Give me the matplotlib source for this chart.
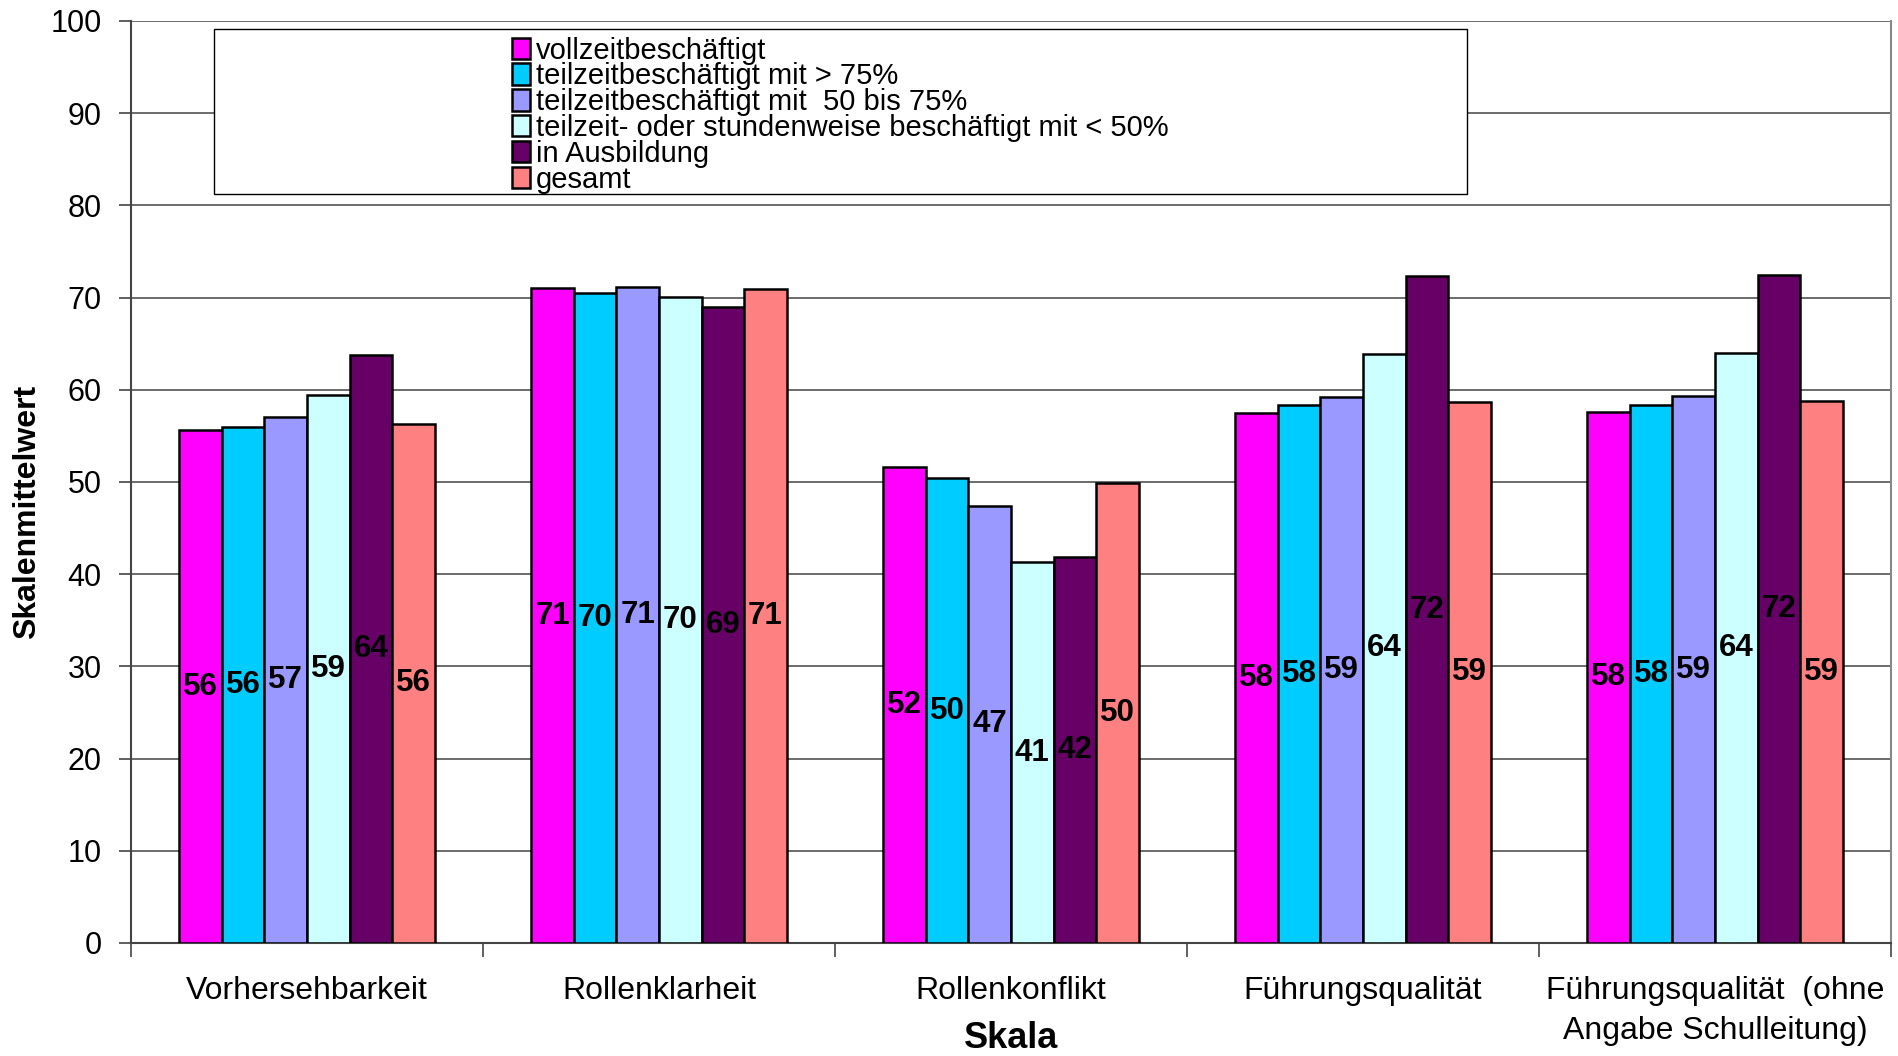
import numpy as np
import matplotlib
matplotlib.use("Agg")
import matplotlib.pyplot as plt
from matplotlib.patches import Rectangle, Patch

plt.rcParams['font.family'] = ['Liberation Sans', 'DejaVu Sans']

# Data
categories = ['Vorhersehbarkeit', 'Rollenklarheit', 'Rollenkonflikt',
              'Führungsqualität', 'Führungsqualität  (ohne\nAngabe Schulleitung)']
series_names = ['vollzeitbeschäftigt',
                'teilzeitbeschäftigt mit > 75%',
                'teilzeitbeschäftigt mit  50 bis 75%',
                'teilzeit- oder stundenweise beschäftigt mit < 50%',
                'in Ausbildung',
                'gesamt']
vollzeit = [55.6, 71.0, 51.6, 57.5, 57.6]
teil_75 = [56.0, 70.5, 50.4, 58.3, 58.4]
teil_50_75 = [57.1, 71.1, 47.4, 59.2, 59.3]
teil_50 = [59.4, 70.1, 41.3, 63.9, 64.0]
ausbildung = [63.8, 69.0, 41.9, 72.3, 72.4]
gesamt = [56.3, 70.9, 49.9, 58.7, 58.8]
series = [vollzeit, teil_75, teil_50_75, teil_50, ausbildung, gesamt]
colors = ['#FF00FF', '#00CCFF', '#9999FF', '#CCFFFF', '#660066', '#FF8080']

fig = plt.figure(figsize=(18.98, 10.56), dpi=100)
ax = fig.add_axes([131/1898, 1-943/1056, 1760/1898, 922/1056])

x = np.arange(len(categories))
n = len(series)
w = 0.1208
for i, (vals, col) in enumerate(zip(series, colors)):
    pos = x + (i - (n - 1) / 2) * w
    ax.bar(pos, vals, width=w, color=col, edgecolor='black', linewidth=1.8, zorder=3)
    for px, v in zip(pos, vals):
        ax.text(px, v / 2, str(int(round(v))), ha='center', va='center',
                fontsize=22.5, fontweight='bold', color='black', zorder=4)

ax.set_xlim(-0.5, len(categories) - 0.5)
ax.set_ylim(0, 100)
ax.set_yticks(np.arange(0, 101, 10))
ax.yaxis.grid(True, color='#444444', linewidth=1.1, zorder=0)
ax.tick_params(axis='y', labelsize=22, length=9, width=1.2, color='#444444', pad=12)

ax.set_xticks(x)
ax.set_xticklabels(categories, fontsize=23, linespacing=1.4)
ax.tick_params(axis='x', which='major', length=0, pad=24)
ax.set_xticks(np.arange(-0.5, len(categories)), minor=True)
ax.tick_params(axis='x', which='minor', length=10, width=1.2, color='#444444')

for s in ['left', 'bottom']:
    ax.spines[s].set_color('#444444')
    ax.spines[s].set_linewidth(1.5)
ax.spines['top'].set_visible(False)
ax.spines['right'].set_color('#888888')
ax.spines['right'].set_linewidth(1.5)

ax.set_xlabel('Skala', fontsize=26, fontweight='bold')
ax.xaxis.label.set_va('center')
ax.xaxis.set_label_coords(0.5, -0.104)
ax.set_ylabel('Skalenmittelwert', fontsize=23, fontweight='bold')
ax.yaxis.label.set_va('center')
ax.yaxis.set_label_coords(-0.059, 0.467)

# legend box
ax.add_patch(Rectangle((0.047, 0.812), 0.712, 0.179, transform=ax.transAxes,
                       facecolor='white', edgecolor='black', linewidth=1.0, zorder=5))
handles = [Patch(facecolor=c, edgecolor='black', linewidth=1.8) for c in colors]
leg = ax.legend(handles, series_names, loc='center', bbox_to_anchor=(0.403, 0.898),
                frameon=False, fontsize=21, labelspacing=-0.075, handlelength=0.6,
                handleheight=0.75, handletextpad=0.2, borderpad=0)
leg.set_zorder(6)

fig.savefig('out.png', dpi=100)
